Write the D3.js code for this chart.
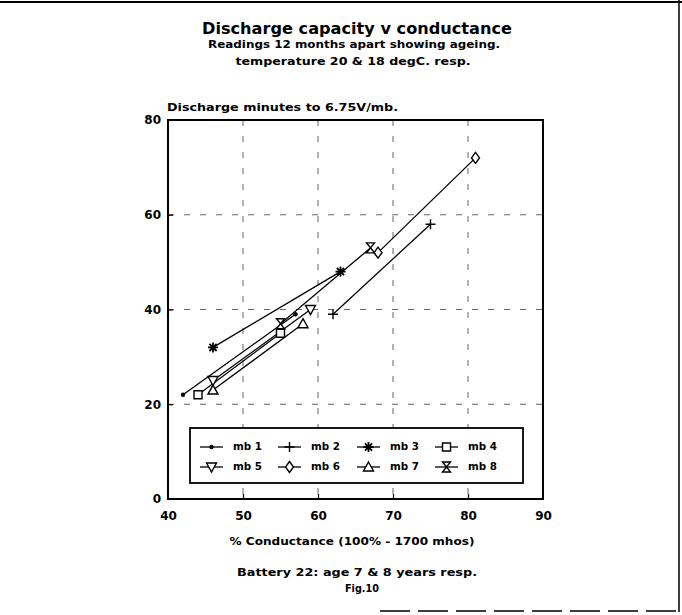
<!DOCTYPE html>
<html>
<head>
<meta charset="utf-8">
<script src="https://cdn.jsdelivr.net/npm/d3@7"></script>
<style>
  html, body { margin: 0; padding: 0; background: #fff; }
  svg text { font-family: "DejaVu Sans", "Liberation Sans", sans-serif; font-weight: bold; fill: #000; }
</style>
</head>
<body>
<svg id="chart" width="682" height="615"></svg>
<script>
// Battery 22: two readings per monobloc, 12 months apart
const seriesNames = ["mb 1", "mb 2", "mb 3", "mb 4", "mb 5", "mb 6", "mb 7", "mb 8"];
const markerKinds = ["dot", "plus", "star", "square", "triDown", "diamond", "triUp", "hourglass"];
const conductanceFirst  = [42, 62, 46, 44, 46, 68, 46, 55];
const conductanceSecond = [57, 75, 63, 55, 59, 81, 58, 67];
const minutesFirst  = [22, 39, 32, 22, 25, 52, 23, 37];
const minutesSecond = [39, 58, 48, 35, 40, 72, 37, 53];
const xTicks = [40, 50, 60, 70, 80, 90];
const yTicks = [0, 20, 40, 60, 80];
const xGrid = [50, 60, 70, 80];
const yGrid = [20, 40, 60];

const svg = d3.select("#chart");
const x = d3.scaleLinear().domain([40, 90]).range([168, 543]);
const y = d3.scaleLinear().domain([0, 80]).range([499, 120]);

// page edges
svg.append("line").attr("x1", 0).attr("x2", 682).attr("y1", 2).attr("y2", 2)
  .attr("stroke", "#000").attr("stroke-width", 2);
svg.append("line").attr("x1", 679).attr("x2", 679).attr("y1", 0).attr("y2", 612)
  .attr("stroke", "#000").attr("stroke-width", 1.5);
svg.append("line").attr("x1", 380).attr("x2", 682).attr("y1", 611).attr("y2", 611)
  .attr("stroke", "#000").attr("stroke-width", 1.5).attr("stroke-dasharray", "30,8");

// titles
function label(txt, cx, cy, size, len) {
  svg.append("text").attr("x", cx).attr("y", cy)
    .attr("text-anchor", "middle").attr("dominant-baseline", "middle")
    .attr("font-size", size)
    .attr("textLength", len).attr("lengthAdjust", "spacingAndGlyphs")
    .text(txt);
}
label("Discharge capacity v conductance", 357, 29, 15, 310);
label("Readings 12 months apart showing ageing.", 354, 45, 10, 292);
label("temperature 20 & 18 degC. resp.", 353, 62, 10, 235);

svg.append("text").attr("x", 167).attr("y", 108)
  .attr("dominant-baseline", "middle").attr("font-size", 10)
  .attr("textLength", 231).attr("lengthAdjust", "spacingAndGlyphs")
  .text("Discharge minutes to 6.75V/mb.");

// grid
const grid = svg.append("g").attr("stroke", "#333").attr("stroke-width", 1)
  .attr("stroke-dasharray", "6,10").attr("opacity", 0.75);
grid.selectAll("line.v").data(xGrid).join("line").attr("class", "v")
  .attr("x1", d => x(d)).attr("x2", d => x(d)).attr("y1", y(80)).attr("y2", y(0));
grid.selectAll("line.h").data(yGrid).join("line").attr("class", "h")
  .attr("x1", x(40)).attr("x2", x(90)).attr("y1", d => y(d)).attr("y2", d => y(d));

// axes with inward ticks
const xAxis = d3.axisBottom(x).tickValues(xTicks).tickSize(-5).tickPadding(12);
const yAxis = d3.axisLeft(y).tickValues(yTicks).tickSize(-5).tickPadding(7);
const gx = svg.append("g").attr("transform", `translate(0,${y(0)})`).call(xAxis);
const gy = svg.append("g").attr("transform", `translate(${x(40)},0)`).call(yAxis);
[gx, gy].forEach(g => {
  g.select(".domain").remove();
  g.selectAll(".tick line").attr("stroke", "#000").attr("stroke-width", 1.2);
  g.selectAll(".tick text").attr("font-size", 12)
    .style("font-family", "'DejaVu Sans', sans-serif").style("font-weight", "bold");
});
gx.selectAll(".tick").filter(d => d === 40 || d === 90).select("line").remove();
gy.selectAll(".tick").filter(d => d === 0 || d === 80).select("line").remove();

// plot frame
svg.append("rect").attr("x", x(40)).attr("y", y(80))
  .attr("width", x(90) - x(40)).attr("height", y(0) - y(80))
  .attr("fill", "none").attr("stroke", "#000").attr("stroke-width", 2);

// marker shapes
function markerPath(kind) {
  switch (kind) {
    case "plus": return "M-5,0H5M0,-5V5";
    case "star": return "M-5,0H5M0,-5V5M-3.6,-3.6L3.6,3.6M-3.6,3.6L3.6,-3.6";
    case "square": return "M-4,-4H4V4H-4Z";
    case "triDown": return "M-5,-4H5L0,5Z";
    case "diamond": return "M0,-5.5L4,0L0,5.5L-4,0Z";
    case "triUp": return "M0,-5L5,4H-5Z";
    case "hourglass": return "M-4,-5H4L-4,5H4Z";
    default: return "";
  }
}
function drawMarker(g, kind, px, py) {
  if (kind === "dot") {
    g.append("circle").attr("cx", px).attr("cy", py).attr("r", 2.2).attr("fill", "#000");
    return;
  }
  g.append("path").attr("d", markerPath(kind))
    .attr("transform", `translate(${px},${py})`)
    .attr("fill", kind === "plus" || kind === "star" ? "none" : "#fff")
    .attr("stroke", "#000").attr("stroke-width", kind === "star" ? 1.8 : 1.4);
}

// series lines and markers
const data = seriesNames.map((name, i) => ({
  name, kind: markerKinds[i],
  pts: [[conductanceFirst[i], minutesFirst[i]], [conductanceSecond[i], minutesSecond[i]]]
}));
const line = d3.line().x(d => x(d[0])).y(d => y(d[1]));
const gl = svg.append("g");
data.forEach(s => {
  gl.append("path").attr("d", line(s.pts)).attr("fill", "none")
    .attr("stroke", "#000").attr("stroke-width", 1.3);
});
const gm = svg.append("g");
data.forEach(s => s.pts.forEach(p => drawMarker(gm, s.kind, x(p[0]), y(p[1]))));

// legend
const leg = svg.append("g");
leg.append("rect").attr("x", 190).attr("y", 428).attr("width", 333).attr("height", 55)
  .attr("fill", "#fff").attr("stroke", "#000").attr("stroke-width", 1.8);
const colX = [200, 278, 357, 435];
const rowY = [447, 467];
data.forEach((s, i) => {
  const lx = colX[i % 4], ly = rowY[Math.floor(i / 4)];
  leg.append("line").attr("x1", lx).attr("x2", lx + 23).attr("y1", ly).attr("y2", ly)
    .attr("stroke", "#000").attr("stroke-width", 1.3);
  drawMarker(leg, s.kind, lx + 11.5, ly);
  leg.append("text").attr("x", lx + 33).attr("y", ly).attr("dominant-baseline", "middle")
    .attr("font-size", 10).attr("textLength", 29).attr("lengthAdjust", "spacingAndGlyphs")
    .text(s.name);
});

// axis title and captions
label("% Conductance (100% - 1700 mhos)", 352, 542, 11, 245);
label("Battery 22: age 7 & 8 years resp.", 357, 573, 11, 240);
label("Fig.10", 362, 589, 11, 34);
</script>
</body>
</html>
